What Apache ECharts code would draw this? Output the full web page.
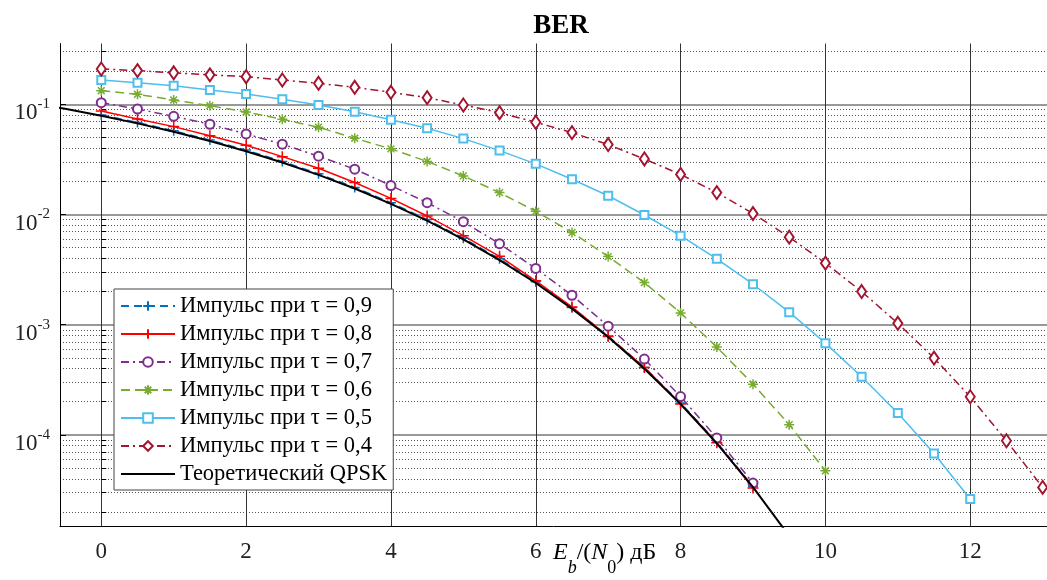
<!DOCTYPE html>
<html>
<head>
<meta charset="utf-8">
<script src="https://cdn.jsdelivr.net/npm/echarts@6/dist/echarts.min.js"></script>
<style>
html,body{margin:0;padding:0;background:#fff;}
#chart{width:1047px;height:580px;}
</style>
</head>
<body>
<div id="chart"></div>
<script>
// ---- data ----
const snr = [0,0.5,1,1.5,2,2.5,3,3.5,4,4.5,5,5.5,6,6.5,7,7.5,8,8.5,9,9.5,10,10.5,11,11.5,12,12.5,13];
const tau09 = [0.0800,0.0684,0.0575,0.0474,0.0384,0.0303,0.0234,0.0176,0.0128,0.0090,0.0061,0.00396,0.00245,0.00143,0.00079,0.00041,0.000195,8.6e-5,3.4e-5];
const tau08 = [0.0870,0.0736,0.0627,0.0519,0.0425,0.0335,0.0263,0.0195,0.0140,0.0097,0.00642,0.00417,0.00250,0.00145,0.00078,0.00041,0.000191,8.5e-5,3.3e-5];
const tau07 = [0.1034,0.0906,0.0778,0.0659,0.0538,0.0434,0.0338,0.0258,0.0183,0.0128,0.0086,0.00543,0.00324,0.00185,0.00097,0.000488,0.000223,9.38e-5,3.66e-5];
const tau06 = [0.1328,0.1232,0.1094,0.0971,0.0851,0.0731,0.0619,0.0492,0.0394,0.0303,0.0224,0.0158,0.0107,0.00686,0.00415,0.00241,0.00128,0.000627,0.000289,0.000124,4.73e-5];
const tau05 = [0.166,0.157,0.147,0.135,0.124,0.111,0.0985,0.0857,0.0725,0.0606,0.0488,0.0380,0.0288,0.0209,0.0148,0.0099,0.00643,0.00396,0.00233,0.0013,0.00068,0.000337,0.000158,6.79e-5,2.62e-5];
const tau04 = [0.209,0.202,0.193,0.185,0.178,0.166,0.155,0.1426,0.1285,0.1148,0.0985,0.0839,0.0687,0.0553,0.0431,0.0319,0.0231,0.0158,0.0102,0.00623,0.00362,0.0020,0.00103,0.000498,0.000222,8.85e-5,3.34e-5];
const theoryX = [-1,-0.5,0,0.5,1,1.5,2,2.5,3,3.5,4,4.5,5,5.5,6,6.5,7,7.5,8,8.5,9,9.5];
const theory = [0.1038,0.0909,0.0786,0.0671,0.0563,0.0464,0.0375,0.0296,0.0229,0.0172,0.0125,0.0088,0.00595,0.00386,0.00239,0.00140,0.000773,0.000399,0.000191,8.4e-5,3.36e-5,1.21e-5];
const xTicks = [0,2,4,6,8,10,12];
const yTicks = [1e-4,1e-3,1e-2,1e-1];
const names = ['Импульс при τ = 0,9','Импульс при τ = 0,8','Импульс при τ = 0,7','Импульс при τ = 0,6','Импульс при τ = 0,5','Импульс при τ = 0,4','Теоретический QPSK'];

// ---- helpers ----
const yMin = 1.47e-5, yMax = 0.356;
const minorY = [];
for (let e = -5; e <= -1; e++) {
  for (let m = 2; m <= 9; m++) {
    const v = m * Math.pow(10, e);
    if (v > yMin && v < yMax) minorY.push(v);
  }
}
const pairs = (xs, ys) => ys.map((y, i) => [xs[i], y]);
const FONT = 'Liberation Serif';
const PLUS = 'path://M5,0L5,10M0,5L10,5';
const STAR = 'path://M5,0L5,10M0,5L10,5M1.6,1.6L8.4,8.4M1.6,8.4L8.4,1.6';

function mk(name, ys, color, dash, symbol, size, width) {
  return {
    name: name, type: 'line', xAxisIndex: 0, yAxisIndex: 0,
    data: pairs(snr, ys),
    symbol: symbol, symbolSize: size, showSymbol: true,
    lineStyle: {color: color, width: width || 1.5, type: dash},
    itemStyle: {color: color, borderColor: color, borderWidth: 1.5},
    emphasis: {disabled: true}, animation: false, z: 3
  };
}

const series = [
  mk(names[0], tau09, '#0072BD', [8,5], PLUS, 10),
  mk(names[1], tau08, '#FF0000', 'solid', PLUS, 11),
  mk(names[2], tau07, '#7E2F8E', [8,4,2,4], 'emptyCircle', 9),
  mk(names[3], tau06, '#77AC30', [9,5], STAR, 10),
  mk(names[4], tau05, '#4DBEEE', 'solid', 'emptyRect', 8),
  mk(names[5], tau04, '#A2142F', [8,4,2,4], 'emptyDiamond', [9,13]),
  {
    name: names[6], type: 'line', data: pairs(theoryX, theory),
    symbol: 'none', lineStyle: {color: '#000', width: 2},
    itemStyle: {color: '#000'}, emphasis: {disabled: true}, animation: false, z: 4
  }
];

const legendData = names.map((n, i) => i === 6 ? {name: n, itemStyle: {opacity: 0}} : {name: n});

const chart = echarts.init(document.getElementById('chart'));
chart.setOption({
  animation: false,
  backgroundColor: '#fff',
  title: {
    text: 'BER', left: 556, top: 8, textAlign: 'center',
    textStyle: {fontFamily: FONT, fontWeight: 'bold', fontSize: 27, color: '#000'}
  },
  grid: {left: 60, right: 0, top: 43.5, bottom: 53.3, containLabel: false},
  xAxis: {
    type: 'value', min: -0.57, max: 13.06,
    axisLine: {show: true, lineStyle: {color: '#000', width: 1}},
    axisTick: {show: false, customValues: xTicks},
    axisLabel: {customValues: xTicks, fontFamily: FONT, fontSize: 23, color: '#222', margin: 14},
    splitLine: {show: true, lineStyle: {color: '#333', width: 1}}
  },
  yAxis: [
    {
      type: 'log', logBase: 10, min: yMin, max: yMax,
      axisLine: {show: true, onZero: false, lineStyle: {color: '#000', width: 1}},
      axisTick: {show: true, inside: true, length: 6, customValues: yTicks, lineStyle: {color: '#000'}},
      axisLabel: {
        customValues: yTicks, margin: 10, padding: [10, 0, 0, 0],
        formatter: function (v) { return '{b|10}{s|' + Math.round(Math.log10(v)) + '}'; },
        rich: {
          b: {fontFamily: FONT, fontSize: 23, color: '#222', lineHeight: 24, padding: [8,0,0,0]},
          s: {fontFamily: FONT, fontSize: 15, color: '#222', lineHeight: 14, padding: [0,0,10,0]}
        }
      },
      splitLine: {show: true, lineStyle: {color: '#777', width: 1.5}}
    },
    {
      type: 'log', logBase: 10, min: yMin, max: yMax, position: 'left',
      axisLine: {show: false},
      axisTick: {show: true, inside: true, length: 5, customValues: minorY, lineStyle: {color: '#000'}},
      axisLabel: {show: false},
      splitLine: {show: true, lineStyle: {color: '#555', width: 1, type: [1,2]}}
    }
  ],
  legend: {
    orient: 'vertical', left: 114, top: 289,
    itemWidth: 54, itemHeight: 12, itemGap: 4,
    padding: [5, 6, 4, 6],
    backgroundColor: '#fff', borderColor: '#444', borderWidth: 1,
    textStyle: {fontFamily: FONT, fontSize: 22.5, color: '#000', lineHeight: 24},
    data: legendData, selectedMode: false
  },
  graphic: [{
    type: 'text', left: 553, top: 529, silent: true,
    style: {
      text: '{i|E}{sb|b}{n|/(}{i|N}{s0|0}{n|) дБ}',
      rich: {
        i: {fontFamily: FONT, fontStyle: 'italic', fontSize: 24, fill: '#000', lineHeight: 26},
        n: {fontFamily: FONT, fontSize: 24, fill: '#000', lineHeight: 26},
        sb: {fontFamily: FONT, fontStyle: 'italic', fontSize: 18, fill: '#000', lineHeight: 18, padding: [30,0,0,0]},
        s0: {fontFamily: FONT, fontSize: 18, fill: '#000', lineHeight: 18, padding: [30,0,0,0]}
      }
    }
  }],
  series: series
});
</script>
</body>
</html>
